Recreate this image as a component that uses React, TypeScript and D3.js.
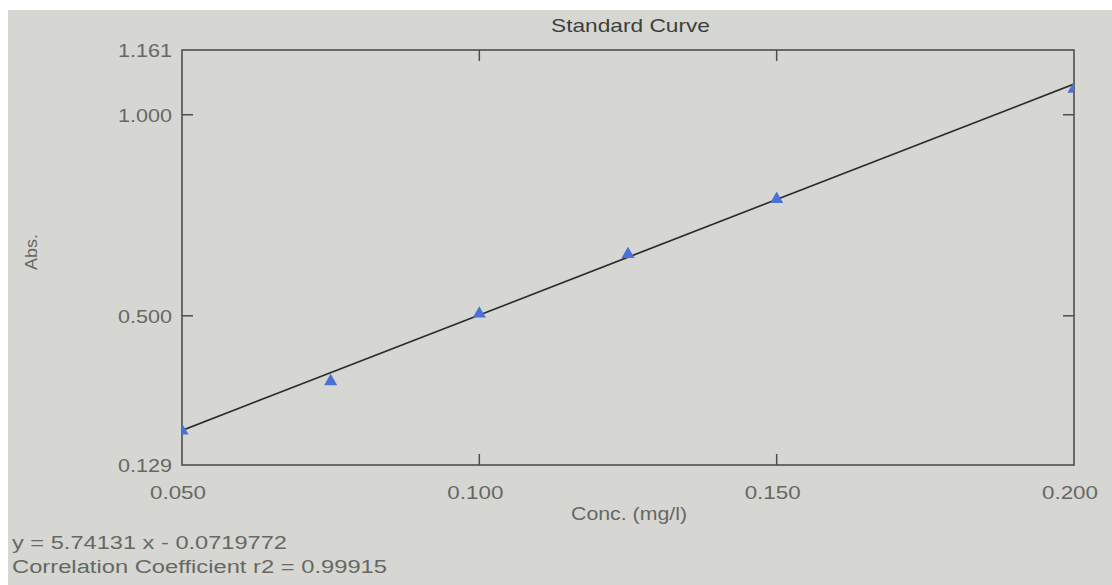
import React from "react";
import * as d3 from "d3";

const concentrations = [0.05, 0.075, 0.1, 0.125, 0.15, 0.2];
const absorbances = [0.214, 0.337, 0.505, 0.653, 0.79, 1.064];
const xTicks = [0.05, 0.1, 0.15, 0.2];
const yTicks = [0.129, 0.5, 1.0, 1.161];
const slope = 5.74131;
const intercept = -0.0719772;
const r2 = 0.99915;

const W = 1112;
const H = 585;
const M = { left: 182, right: 1074, top: 50, bottom: 465 };

export default function App() {
  const x = d3.scaleLinear().domain([0.05, 0.2]).range([M.left, M.right]);
  const y = d3.scaleLinear().domain([0.129, 1.161]).range([M.bottom, M.top]);
  const fit = [0.05, 0.2].map((c) => [c, slope * c + intercept] as [number, number]);
  const line = d3
    .line<[number, number]>()
    .x((d) => x(d[0]))
    .y((d) => y(d[1]));
  const tri = d3.symbol().type(d3.symbolTriangle).size(75)() as string;
  const tickLen = 11;
  const innerX = xTicks.filter((t) => t !== 0.05 && t !== 0.2);
  const innerY = yTicks.filter((t) => t !== 0.129 && t !== 1.161);
  const font = "Liberation Sans, Arial, sans-serif";
  const tickColor = "#666864";
  const fmt = d3.format(".3f");

  return (
    <svg
      width={W}
      height={H}
      style={{ position: "absolute", left: 0, top: 0, display: "block" }}
      fontFamily={font}
    >
      <rect x={0} y={0} width={W} height={H} fill="#ffffff" />
      <rect x={8} y={10} width={W - 8} height={H - 10} fill="#d6d7d2" />
      <defs>
        <clipPath id="plot">
          <rect x={M.left} y={M.top} width={M.right - M.left} height={M.bottom - M.top} />
        </clipPath>
      </defs>
      <text
        x={551}
        y={32}
        fontSize={19}
        fill="#3c3f3a"
        textLength={159}
        lengthAdjust="spacingAndGlyphs"
      >
        Standard Curve
      </text>
      <rect
        x={M.left}
        y={M.top}
        width={M.right - M.left}
        height={M.bottom - M.top}
        fill="none"
        stroke="#4d4f4b"
        strokeWidth={1.6}
      />
      {innerX.map((t) => (
        <g key={"xt" + t}>
          <line x1={x(t)} x2={x(t)} y1={M.top} y2={M.top + tickLen} stroke="#4d4f4b" strokeWidth={1.5} />
          <line x1={x(t)} x2={x(t)} y1={M.bottom} y2={M.bottom - tickLen} stroke="#4d4f4b" strokeWidth={1.5} />
        </g>
      ))}
      {innerY.map((t) => (
        <g key={"yt" + t}>
          <line x1={M.left} x2={M.left + tickLen} y1={y(t)} y2={y(t)} stroke="#4d4f4b" strokeWidth={1.5} />
          <line x1={M.right} x2={M.right - tickLen} y1={y(t)} y2={y(t)} stroke="#4d4f4b" strokeWidth={1.5} />
        </g>
      ))}
      {yTicks.map((t) => (
        <text
          key={"yl" + t}
          x={M.left - 10}
          y={y(t) + 7}
          textAnchor="end"
          fontSize={19}
          fill={tickColor}
          textLength={54}
          lengthAdjust="spacingAndGlyphs"
        >
          {fmt(t)}
        </text>
      ))}
      {xTicks.map((t) => (
        <text
          key={"xl" + t}
          x={x(t) - 4}
          y={499}
          textAnchor="middle"
          fontSize={19}
          fill={tickColor}
          textLength={56}
          lengthAdjust="spacingAndGlyphs"
        >
          {fmt(t)}
        </text>
      ))}
      <text
        x={629}
        y={520}
        textAnchor="middle"
        fontSize={18}
        fill={tickColor}
        textLength={116}
        lengthAdjust="spacingAndGlyphs"
      >
        Conc. (mg/l)
      </text>
      <text
        transform="translate(37,252) rotate(-90)"
        textAnchor="middle"
        fontSize={17}
        fill={tickColor}
        textLength={36}
        lengthAdjust="spacingAndGlyphs"
      >
        Abs.
      </text>
      <g clipPath="url(#plot)">
        <path d={line(fit) as string} fill="none" stroke="#2b2d2b" strokeWidth={1.7} />
        {concentrations.map((c, i) => (
          <path
            key={"p" + i}
            d={tri}
            transform={`translate(${x(c)},${y(absorbances[i])})`}
            fill="#4a72d6"
          />
        ))}
      </g>
      <text
        x={12}
        y={549}
        fontSize={18}
        fill={tickColor}
        textLength={275}
        lengthAdjust="spacingAndGlyphs"
      >
        {`y = ${slope} x - ${Math.abs(intercept)}`}
      </text>
      <text
        x={12}
        y={573}
        fontSize={18}
        fill={tickColor}
        textLength={375}
        lengthAdjust="spacingAndGlyphs"
      >
        {`Correlation Coefficient r2 = ${r2}`}
      </text>
    </svg>
  );
}
